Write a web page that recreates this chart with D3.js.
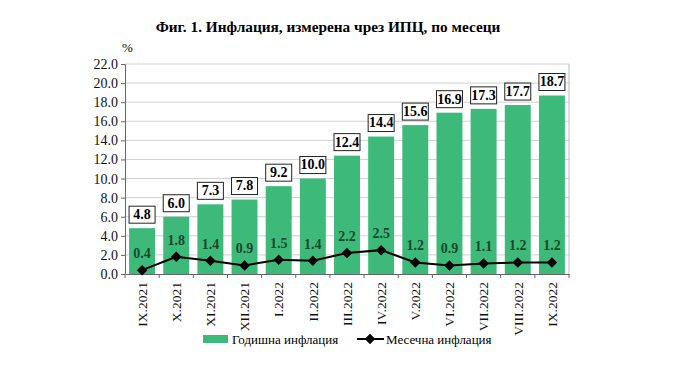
<!DOCTYPE html>
<html><head><meta charset="utf-8">
<script src="https://cdn.jsdelivr.net/npm/d3@7"></script>
<style>
body{margin:0;background:#fff;}
svg text{font-family:'Liberation Serif','Times New Roman',serif !important;}
</style></head>
<body><svg id="c" width="692" height="383" font-family="Liberation Serif"></svg>
<script>
const categories = ["IX.2021","X.2021","XI.2021","XII.2021","I.2022","II.2022","III.2022","IV.2022","V.2022","VI.2022","VII.2022","VIII.2022","IX.2022"];
const annual = [4.8,6.0,7.3,7.8,9.2,10.0,12.4,14.4,15.6,16.9,17.3,17.7,18.7];
const monthly = [0.4,1.8,1.4,0.9,1.5,1.4,2.2,2.5,1.2,0.9,1.1,1.2,1.2];
const yTicks = [0,2,4,6,8,10,12,14,16,18,20,22];
const title = "Фиг. 1. Инфлация, измерена чрез ИПЦ, по месеци";
const legendLabels = ["Годишна инфлация","Месечна инфлация"];

const svg = d3.select("#c");
const L=125,R=569,T=64,B=274;
const green="#3dba7a";
const x=d3.scaleBand().domain(categories).range([L,R]).paddingInner(0.24).paddingOuter(0.12);
const y=d3.scaleLinear().domain([0,22]).range([B,T]);

svg.append("text").attr("x",328).attr("y",32).attr("text-anchor","middle")
  .attr("font-size",15.3).attr("font-weight","bold").text(title);

svg.append("g").selectAll("line").data(yTicks.slice(1)).join("line")
  .attr("x1",L).attr("x2",R).attr("y1",d=>y(d)).attr("y2",d=>y(d))
  .attr("stroke","#d0d0d0").attr("stroke-width",1);
svg.append("line").attr("x1",R).attr("x2",R).attr("y1",T).attr("y2",B).attr("stroke","#bbb");

svg.append("g").selectAll("rect").data(annual).join("rect")
  .attr("x",(d,i)=>x(categories[i])).attr("width",x.bandwidth())
  .attr("y",d=>y(d)).attr("height",d=>B-y(d)).attr("fill",green);

const ya=svg.append("g").attr("transform",`translate(${L},0)`)
  .call(d3.axisLeft(y).tickValues(yTicks).tickFormat(d3.format(".1f")).tickSize(4).tickPadding(3));
ya.attr("font-family",null);
ya.select(".domain").attr("stroke","#666");
ya.selectAll(".tick line").attr("stroke","#666");
ya.selectAll("text").attr("font-size",14).attr("fill","#111");

const xa=svg.append("g").attr("transform",`translate(0,${B})`)
  .call(d3.axisBottom(x).tickSize(0).tickPadding(0));
xa.attr("font-family",null);
xa.select(".domain").attr("stroke","#666");
xa.selectAll(".tick line").remove();
svg.append("g").selectAll("line").data(d3.range(categories.length+1)).join("line")
  .attr("x1",i=>L+i*(R-L)/categories.length).attr("x2",i=>L+i*(R-L)/categories.length)
  .attr("y1",B).attr("y2",B+4).attr("stroke","#666");
xa.selectAll("text").attr("font-size",13.5).attr("fill","#111")
  .attr("transform","rotate(-90)").attr("text-anchor","end").attr("x",-8).attr("y",0).attr("dy","0.35em");

svg.append("text").attr("x",122).attr("y",52).attr("font-size",13).text("%");

const lab=svg.append("g").selectAll("g").data(annual).join("g")
  .attr("transform",(d,i)=>`translate(${x(categories[i])+x.bandwidth()/2},${y(d)-14})`);
lab.append("rect").attr("x",-13).attr("y",-8).attr("width",26).attr("height",17)
  .attr("fill","#fff").attr("stroke","#222").attr("stroke-width",1);
lab.append("text").attr("text-anchor","middle").attr("dy","0.35em").attr("font-size",14)
  .attr("font-weight","bold").text(d=>d.toFixed(1));

const cx=i=>x(categories[i])+x.bandwidth()/2;
svg.append("path").datum(monthly)
  .attr("d",d3.line().x((d,i)=>cx(i)).y(d=>y(d)))
  .attr("fill","none").attr("stroke","#000").attr("stroke-width",2);
const diamond=d3.symbol().type(d3.symbolDiamond2).size(70);
svg.append("g").selectAll("path").data(monthly).join("path")
  .attr("transform",(d,i)=>`translate(${cx(i)},${y(d)})`).attr("d",diamond).attr("fill","#000");
svg.append("g").selectAll("text").data(monthly).join("text")
  .attr("x",(d,i)=>cx(i)).attr("y",d=>y(d)-17).attr("dy","0.35em").attr("text-anchor","middle")
  .attr("font-size",14).attr("font-weight","bold").attr("fill","#17492a").text(d=>d.toFixed(1));

const lg=svg.append("g").attr("transform","translate(0,339)");
lg.append("rect").attr("x",203).attr("y",-4).attr("width",25).attr("height",8).attr("fill",green);
lg.append("text").attr("x",232).attr("dy","0.35em").attr("font-size",13).text(legendLabels[0]);
lg.append("line").attr("x1",357).attr("x2",384).attr("stroke","#000").attr("stroke-width",2);
lg.append("path").attr("transform","translate(370,0)").attr("d",diamond).attr("fill","#000");
lg.append("text").attr("x",386).attr("dy","0.35em").attr("font-size",13).text(legendLabels[1]);
</script></body></html>
